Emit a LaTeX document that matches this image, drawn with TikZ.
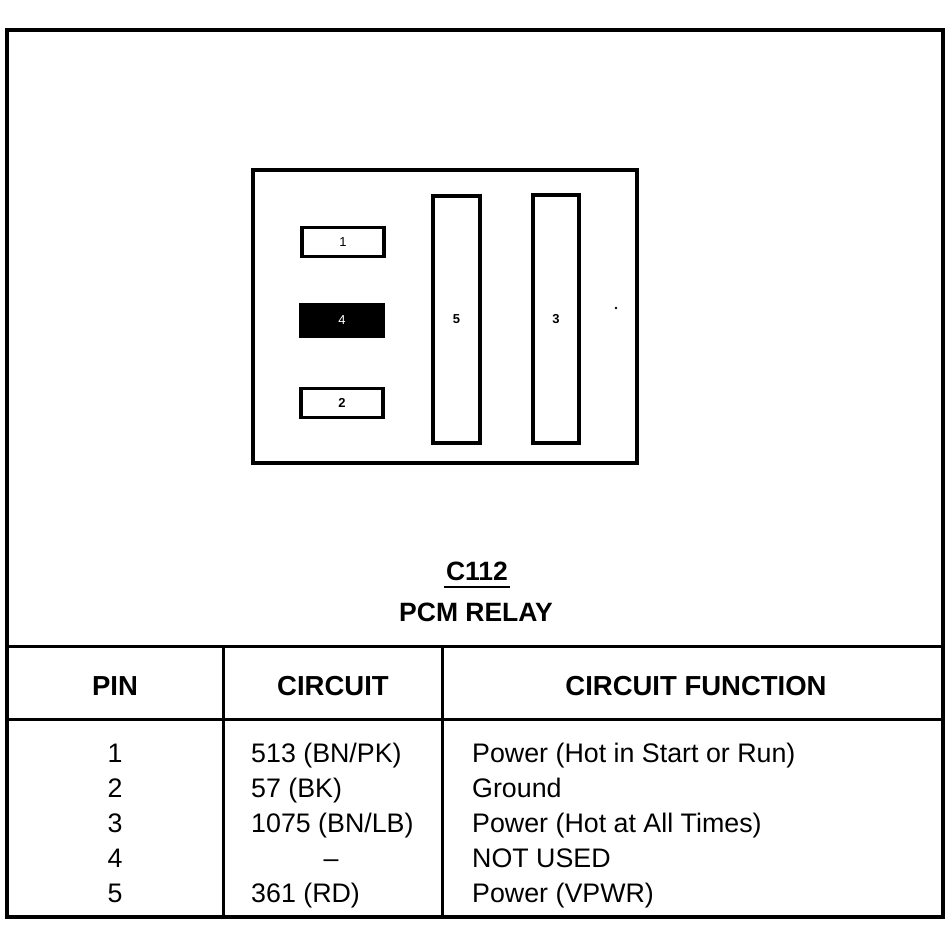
\documentclass[tikz,border=0pt]{standalone}
\usepackage{fontspec}
\setmainfont{Liberation Sans}
\begin{document}
\begin{tikzpicture}[x=1pt,y=-1pt,
  frame/.style={line width=3.2pt},
  rule/.style={line width=3pt},
  housing/.style={draw,line width=3.3pt,inner sep=0pt},
  pinbox/.style={draw,line width=3.3pt,inner sep=0pt},
  pinlbl/.style={font=\fontsize{13}{15}\selectfont},
  pinlblb/.style={font=\fontsize{13}{15}\selectfont\bfseries},
  title/.style={font=\fontsize{26.5}{30}\selectfont\bfseries,anchor=base,inner sep=0pt},
  head/.style={font=\fontsize{27.5}{30}\selectfont\bfseries,anchor=base,inner sep=0pt},
  cell/.style={font=\fontsize{26.8}{30}\selectfont,anchor=base,inner sep=0pt},
  cellw/.style={font=\fontsize{26.8}{30}\selectfont,anchor=base west,inner sep=0pt}
]
\useasboundingbox (0,0) rectangle (952,928);
% outer frame and table rules
\coordinate (TL) at (7,30);
\coordinate (BR) at (943,917);
\draw[frame] (TL) rectangle (BR);
\coordinate (T1) at (7,646);  \coordinate (T2) at (943,646);
\coordinate (H1) at (7,719);  \coordinate (H2) at (943,719);
\coordinate (V1t) at (223,646); \coordinate (V1b) at (223,917);
\coordinate (V2t) at (442,646); \coordinate (V2b) at (442,917);
\draw[rule] (T1) -- (T2);
\draw[rule] (H1) -- (H2);
\draw[rule] (V1t) -- (V1b);
\draw[rule] (V2t) -- (V2b);
% connector face
\node[housing,minimum width=384pt,minimum height=293pt] (house) at (445,316.5) {};
\node[pinbox,minimum width=82pt,minimum height=29pt] (p1) at (343,242) {};
\node[pinlbl] (l1) at (p1.center) {1};
\node[pinbox,fill=black,minimum width=83pt,minimum height=32pt] (p4) at (342,320.5) {};
\node[pinlbl,text=white] (l4) at (p4.center) {4};
\node[pinbox,minimum width=82pt,minimum height=29pt] (p2) at (342,403) {};
\node[pinlblb] (l2) at (p2.center) {2};
\node[pinbox,minimum width=47pt,minimum height=247pt] (p5) at (456.5,319.5) {};
\node[pinlblb] (l5) at (p5.center) {5};
\node[pinbox,minimum width=46pt,minimum height=248pt] (p3) at (556,319) {};
\node[pinlblb] (l3) at (p3.center) {3};
\fill (616,308) circle (1.3pt);
% titles
\node[title] (c112) at (477,580) {C112};
\coordinate (u1) at (444,587); \coordinate (u2) at (510,587);
\draw[line width=2.4pt] (u1) -- (u2);
\node[title] (pcm) at (476,621) {PCM RELAY};
% header
\node[head] (hpin) at (115,695) {PIN};
\node[head] (hcir) at (333,695) {CIRCUIT};
\node[head] (hfun) at (696,695) {CIRCUIT FUNCTION};
% rows
\node[cell] (r1a) at (115,762) {1};
\node[cell] (r2a) at (115,797) {2};
\node[cell] (r3a) at (115,832) {3};
\node[cell] (r4a) at (115,867) {4};
\node[cell] (r5a) at (115,902) {5};
\node[cellw] (r1b) at (251,762) {513 (BN/PK)};
\node[cellw] (r2b) at (251,797) {57 (BK)};
\node[cellw] (r3b) at (251,832) {1075 (BN/LB)};
\node[cell] (r4b) at (331,867) {–};
\node[cellw] (r5b) at (251,902) {361 (RD)};
\node[cellw] (r1c) at (472,762) {Power (Hot in Start or Run)};
\node[cellw] (r2c) at (472,797) {Ground};
\node[cellw] (r3c) at (472,832) {Power (Hot at All Times)};
\node[cellw] (r4c) at (472,867) {NOT USED};
\node[cellw] (r5c) at (472,902) {Power (VPWR)};
\end{tikzpicture}
\end{document}
